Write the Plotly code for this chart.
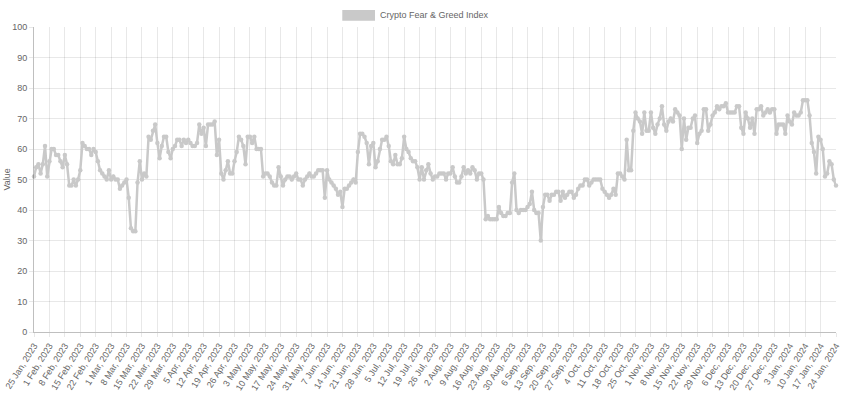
import datetime as dt
import plotly.graph_objects as go

# ---- data -------------------------------------------------------------
start_date = dt.date(2023, 1, 25)
series_name = "Crypto Fear & Greed Index"
y_title = "Value"

# daily index values, one row per week (starting each Wednesday from 25 Jan 2023)
values = [
    51, 54, 55, 52, 55, 61, 51,   # 25 Jan
    56, 60, 60, 58, 58, 56, 54,   # 1 Feb
    58, 55, 48, 48, 50, 48, 50,   # 8 Feb
    53, 62, 61, 60, 60, 58, 60,   # 15 Feb
    59, 56, 53, 52, 51, 50, 53,   # 22 Feb
    50, 51, 50, 50, 47, 48, 49,   # 1 Mar
    50, 44, 34, 33, 33, 49, 56,   # 8 Mar
    50, 52, 51, 64, 63, 66, 68,   # 15 Mar
    62, 57, 61, 64, 64, 59, 57,   # 22 Mar
    60, 61, 63, 63, 61, 63, 62,   # 29 Mar
    63, 62, 61, 61, 62, 68, 65,   # 5 Apr
    67, 61, 68, 68, 68, 69, 58,   # 12 Apr
    63, 52, 50, 53, 56, 52, 52,   # 19 Apr
    56, 59, 64, 63, 61, 55, 64,   # 26 Apr
    64, 62, 64, 60, 60, 60, 51,   # 3 May
    52, 52, 51, 49, 48, 48, 54,   # 10 May
    51, 48, 50, 51, 51, 50, 51,   # 17 May
    52, 50, 50, 48, 50, 51, 52,   # 24 May
    51, 51, 52, 53, 53, 53, 44,   # 31 May
    53, 50, 49, 48, 47, 45, 46,   # 7 Jun
    41, 47, 47, 48, 49, 50, 49,   # 14 Jun
    59, 65, 65, 64, 62, 55, 61,   # 21 Jun
    62, 54, 56, 60, 63, 63, 64,   # 28 Jun
    61, 56, 55, 58, 55, 55, 57,   # 5 Jul
    64, 60, 59, 57, 56, 56, 54,   # 12 Jul
    50, 54, 50, 53, 55, 52, 50,   # 19 Jul
    51, 51, 52, 52, 52, 50, 52,   # 26 Jul
    52, 54, 51, 49, 49, 51, 54,   # 2 Aug
    52, 53, 52, 54, 53, 50, 52,   # 9 Aug
    52, 50, 37, 38, 37, 37, 37,   # 16 Aug
    37, 41, 39, 38, 38, 39, 39,   # 23 Aug
    49, 52, 40, 39, 40, 40, 40,   # 30 Aug
    41, 42, 46, 40, 39, 39, 30,   # 6 Sep
    41, 45, 45, 43, 45, 45, 46,   # 13 Sep
    46, 43, 46, 44, 45, 46, 46,   # 20 Sep
    44, 45, 47, 48, 48, 50, 50,   # 27 Sep
    48, 49, 50, 50, 50, 50, 47,   # 4 Oct
    46, 45, 44, 45, 47, 45, 52,   # 11 Oct
    52, 51, 50, 63, 53, 53, 66,   # 18 Oct
    72, 70, 69, 65, 72, 66, 66,   # 25 Oct
    72, 67, 65, 68, 70, 74, 68,   # 1 Nov
    66, 69, 70, 69, 73, 72, 71,   # 8 Nov
    60, 70, 63, 67, 67, 70, 71,   # 15 Nov
    62, 65, 66, 73, 73, 66, 68,   # 22 Nov
    71, 72, 74, 73, 74, 74, 75,   # 29 Nov
    72, 72, 72, 72, 74, 74, 67,   # 6 Dec
    65, 72, 70, 67, 70, 65, 73,   # 13 Dec
    73, 74, 71, 72, 73, 72, 73,   # 20 Dec
    73, 65, 68, 68, 68, 65, 71,   # 27 Dec
    69, 68, 72, 71, 71, 72, 76,   # 3 Jan
    76, 76, 71, 62, 59, 52, 64,   # 10 Jan
    63, 60, 51, 52, 56, 55, 50,   # 17 Jan
    48,                           # 24 Jan
]

dates = [start_date + dt.timedelta(days=i) for i in range(len(values))]
categories = [f"{d.day} {d.strftime('%b')}, {d.year}" for d in dates]
tick_every = 7
y_ticks = list(range(0, 101, 10))

# ---- figure -----------------------------------------------------------
LINE = "#c9c9c9"
GRID = "rgba(0,0,0,0.09)"
AXIS = "rgba(0,0,0,0.25)"
TXT = "#666666"
FONT = "Liberation Sans, Arial, sans-serif"

idx = list(range(len(values)))
fig = go.Figure()
fig.add_trace(go.Scatter(
    x=idx, y=values, mode="lines+markers", name=series_name,
    line=dict(color=LINE, width=2.5),
    marker=dict(color=LINE, size=4.5, line=dict(width=0)),
    showlegend=False, hoverinfo="skip", cliponaxis=False,
))

tickvals = idx[::tick_every]
ticktext = categories[::tick_every]

fig.update_layout(
    width=850, height=400,
    margin=dict(l=34, r=14, t=27, b=68, autoexpand=False),
    paper_bgcolor="white", plot_bgcolor="white",
    font=dict(family=FONT, size=9, color=TXT),
    xaxis=dict(
        range=[0, len(values) - 1], tickmode="array",
        tickvals=tickvals, ticktext=ticktext, tickangle=-58,
        showgrid=True, gridcolor=GRID, gridwidth=1,
        showline=True, linecolor=AXIS, linewidth=1,
        ticks="outside", ticklen=4, tickcolor=GRID,
        zeroline=False, tickfont=dict(size=9, color=TXT),
        automargin=False, ticklabeloverflow="allow",
    ),
    yaxis=dict(
        range=[0, 100], tickmode="array", tickvals=y_ticks,
        showgrid=True, gridcolor=GRID, gridwidth=1,
        showline=True, linecolor=AXIS, linewidth=1,
        ticks="outside", ticklen=4, tickcolor=GRID,
        zeroline=False, tickfont=dict(size=9, color=TXT),
        automargin=False, ticklabeloverflow="allow",
    ),
    shapes=[dict(
        type="rect", xref="paper", yref="paper",
        x0=0.3844, x1=0.4252, y0=1.0207, y1=1.0557,
        fillcolor=LINE, line=dict(width=0),
    )],
    annotations=[
        dict(text=series_name, xref="paper", yref="paper",
             x=0.4289, y=1.0393, xanchor="left", yanchor="middle",
             showarrow=False, font=dict(size=9, color=TXT, family=FONT)),
        dict(text=y_title, xref="paper", yref="paper",
             x=-0.0349, y=0.5, xanchor="center", yanchor="middle",
             textangle=-90, showarrow=False,
             font=dict(size=9, color=TXT, family=FONT)),
    ],
)

# remove the default page margin so the 850x400 figure fills the window
fig.write_html(
    "out.html",
    config={"displayModeBar": False, "staticPlot": True},
    post_script="document.body.style.margin='0';document.body.style.overflow='hidden';",
)
